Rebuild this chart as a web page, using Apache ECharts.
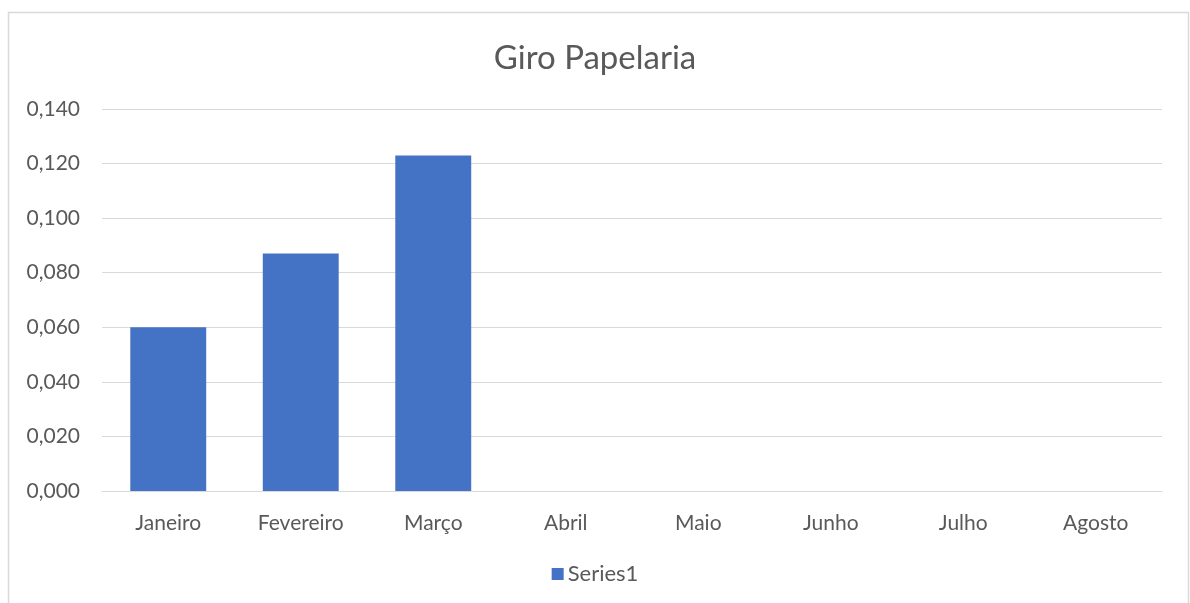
<!DOCTYPE html>
<html><head><meta charset="utf-8">
<script src="https://cdn.jsdelivr.net/npm/echarts@6/dist/echarts.min.js"></script>
<style>html,body{margin:0;padding:0;background:#fff}#c{width:1190px;height:603px}</style>
</head><body><div id="c"></div>
<script>
var categories = ['Janeiro','Fevereiro','Março','Abril','Maio','Junho','Julho','Agosto'];
var series1 = [0.060, 0.087, 0.123, null, null, null, null, null];
var yTicks = {min: 0, max: 0.14, interval: 0.02};
var chart = echarts.init(document.getElementById('c'));
chart.setOption({
  backgroundColor: '#fff',
  animation: false,
  title: {text: 'Giro Papelaria', left: 'center', top: 37,
    textStyle: {fontFamily: 'Lato', fontSize: 33, fontWeight: 'normal', color: '#595959'}},
  graphic: [{type: 'rect', shape: {x: 8.5, y: 12.5, width: 1180, height: 620},
    style: {fill: 'none', stroke: '#d9d9d9', lineWidth: 1.5}, silent: true}],
  legend: {bottom: 13, left: 'center', itemWidth: 12, itemHeight: 12, itemGap: 4,
    icon: 'rect', textStyle: {fontFamily: 'Lato', fontSize: 22, color: '#595959', padding: [0, 0, 0, -1]}},
  grid: {left: 102, right: 28, top: 109, bottom: 112, containLabel: false},
  xAxis: {type: 'category', data: categories,
    axisLine: {lineStyle: {color: '#d9d9d9'}}, axisTick: {show: false},
    axisLabel: {fontFamily: 'Lato', fontSize: 21, color: '#595959', margin: 22}},
  yAxis: {type: 'value', min: yTicks.min, max: yTicks.max, interval: yTicks.interval,
    axisLine: {show: false}, axisTick: {show: false},
    splitLine: {lineStyle: {color: '#d9d9d9'}},
    axisLabel: {fontFamily: 'Lato', fontSize: 21, color: '#595959', margin: 22,
      formatter: function(v){ return v.toFixed(3).replace('.', ','); }}},
  series: [{name: 'Series1', type: 'bar', data: series1, barCategoryGap: '42.7%',
    itemStyle: {color: '#4472C4'}}]
});
</script></body></html>
